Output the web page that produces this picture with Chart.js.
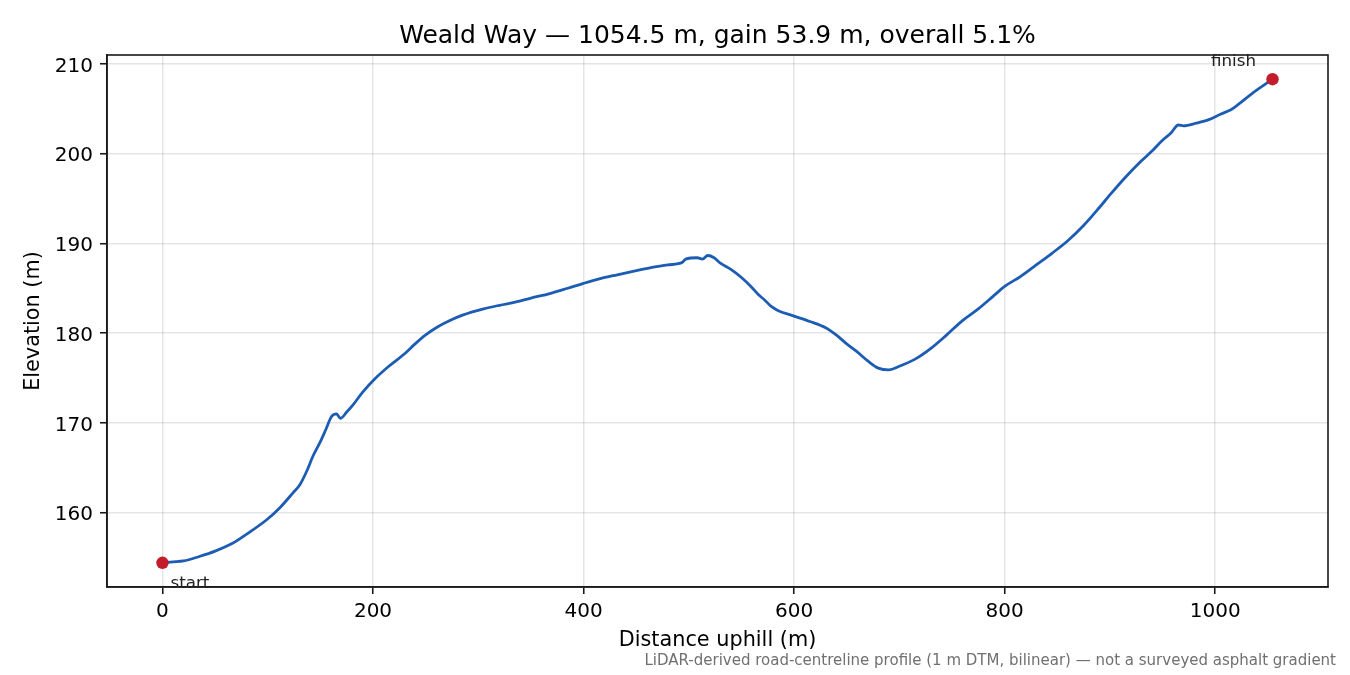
<!DOCTYPE html>
<html lang="en">
<head>
    <meta charset="UTF-8">
    <title>Weald Way elevation profile</title>
    <script src="https://cdn.jsdelivr.net/npm/chart.js"></script>
    <style>
        html, body { margin: 0; padding: 0; background: #fff; }
        #profileChart { display: block; }
    </style>
</head>
<body>
    <canvas id="profileChart" width="1350" height="675"></canvas>
    <script>
    // distance along the road (m) and elevation (m)
    const distance = [0, 10, 20, 35, 50, 67, 80, 99, 112, 124, 130.5, 137, 143, 150, 155, 160.6, 165.4, 169, 175, 181, 190,
        200, 215, 230, 240, 250, 260, 273, 285, 305, 320, 337, 350, 368, 385, 400, 415, 432, 448, 464, 480,
        494, 497, 508, 513, 518, 524, 530, 540, 550, 559, 566, 572, 578, 585, 600, 615, 630, 640, 650, 660,
        670, 680, 690, 700, 715, 730, 745, 760, 775, 790, 800, 815, 830, 845, 860, 875, 890, 900, 915, 930,
        940, 950, 958, 965, 970, 982, 994, 1005, 1015, 1020, 1035, 1054.5];
    const elevation = [154.4, 154.5, 154.6, 155.1, 155.7, 156.6, 157.6, 159.2, 160.6, 162.2, 163.1, 164.6, 166.3, 167.9, 169.2, 170.7, 171.0, 170.5, 171.2, 172.0, 173.4,
        174.7, 176.3, 177.7, 178.8, 179.8, 180.6, 181.4, 182.0, 182.7, 183.1, 183.5, 183.9, 184.4, 185.0, 185.55, 186.05, 186.5, 186.9, 187.3, 187.6,
        187.9, 188.25, 188.4, 188.25, 188.65, 188.4, 187.8, 187.1, 186.2, 185.2, 184.3, 183.7, 183.0, 182.5, 181.9, 181.3, 180.6, 179.8, 178.8, 177.9,
        176.9, 176.1, 175.9, 176.3, 177.1, 178.3, 179.8, 181.4, 182.7, 184.2, 185.2, 186.3, 187.6, 188.9, 190.3, 192.0, 194.0, 195.4, 197.4, 199.2,
        200.3, 201.5, 202.3, 203.2, 203.1, 203.4, 203.8, 204.4, 204.9, 205.3, 206.7, 208.3];

    const xTicks = [0, 200, 400, 600, 800, 1000];
    const yTicks = [160, 170, 180, 190, 200, 210];
    const endLabels = ['start', 'finish'];

    const titleText = 'Weald Way \u2014 1054.5 m, gain 53.9 m, overall 5.1%';
    const footText = 'LiDAR-derived road-centreline profile (1 m DTM, bilinear) \u2014 not a surveyed asphalt gradient';
    const FONT = "'DejaVu Sans', sans-serif";
    const INK = '#1a1a1a';

    const profile = distance.map((d, i) => ({x: d, y: elevation[i]}));
    const last = distance.length - 1;
    const ends = [
        {x: distance[0], y: elevation[0]},
        {x: distance[last], y: elevation[last]}
    ];

    // title, frame, end labels and footnote
    const extras = {
        id: 'extras',
        afterDraw(chart) {
            const {ctx, chartArea: a, scales} = chart;
            ctx.save();
            ctx.strokeStyle = INK;
            ctx.lineWidth = 1.6;
            ctx.strokeRect(a.left, a.top, a.right - a.left, a.bottom - a.top);

            ctx.fillStyle = '#000';
            ctx.font = '25px ' + FONT;
            ctx.textAlign = 'center';
            ctx.textBaseline = 'alphabetic';
            ctx.fillText(titleText, (a.left + a.right) / 2, 43);

            ctx.font = '16.7px ' + FONT;
            ctx.fillStyle = '#222';
            const sx = scales.x.getPixelForValue(ends[0].x);
            const sy = scales.y.getPixelForValue(ends[0].y);
            ctx.textAlign = 'left';
            ctx.fillText(endLabels[0], sx + 8, sy + 25);
            const fx = scales.x.getPixelForValue(ends[1].x);
            const fy = scales.y.getPixelForValue(ends[1].y);
            ctx.textAlign = 'center';
            ctx.fillText(endLabels[1], fx - 39, fy - 13);

            ctx.font = '15px ' + FONT;
            ctx.fillStyle = '#707070';
            ctx.textAlign = 'right';
            ctx.fillText(footText, 1336, 665);
            ctx.restore();
        }
    };

    const gridOpts = {color: 'rgba(0,0,0,0.1)', lineWidth: 1.5, tickColor: INK, tickWidth: 1.6, tickLength: 7};

    new Chart(document.getElementById('profileChart'), {
        type: 'scatter',
        data: {
            datasets: [
                {
                    data: ends,
                    pointRadius: 6.2,
                    pointHoverRadius: 6.2,
                    pointBackgroundColor: '#c21d2a',
                    pointBorderWidth: 0,
                    showLine: false,
                    order: 0
                },
                {
                    data: profile,
                    showLine: true,
                    borderColor: '#1c5db3',
                    borderWidth: 2.8,
                    pointRadius: 0,
                    cubicInterpolationMode: 'monotone',
                    order: 1
                }
            ]
        },
        options: {
            responsive: false,
            devicePixelRatio: 1,
            animation: false,
            layout: {padding: {left: 0, right: 22, top: 55, bottom: 0}},
            plugins: {legend: {display: false}, tooltip: {enabled: false}},
            scales: {
                x: {
                    type: 'linear',
                    min: -52.7,
                    max: 1107.2,
                    afterFit: s => { s.height = 88; },
                    afterBuildTicks: s => { s.ticks = xTicks.map(v => ({value: v})); },
                    grid: gridOpts,
                    border: {color: INK, width: 1.6},
                    ticks: {color: '#000', padding: 6, font: {family: FONT, size: 20}, callback: v => String(v)},
                    title: {display: true, text: 'Distance uphill (m)', color: '#000',
                        font: {family: FONT, size: 20.8}, padding: {top: 0, bottom: 22}}
                },
                y: {
                    min: 151.7,
                    max: 211.0,
                    afterFit: s => { s.width = 107; },
                    afterBuildTicks: s => { s.ticks = yTicks.map(v => ({value: v})); },
                    grid: gridOpts,
                    border: {color: INK, width: 1.6},
                    ticks: {color: '#000', padding: 7, labelOffset: 2.5, font: {family: FONT, size: 20}, callback: v => String(v)},
                    title: {display: true, text: 'Elevation (m)', color: '#000',
                        font: {family: FONT, size: 20.8}, padding: {top: 21, bottom: 0}}
                }
            }
        },
        plugins: [extras]
    });
    </script>
</body>
</html>
